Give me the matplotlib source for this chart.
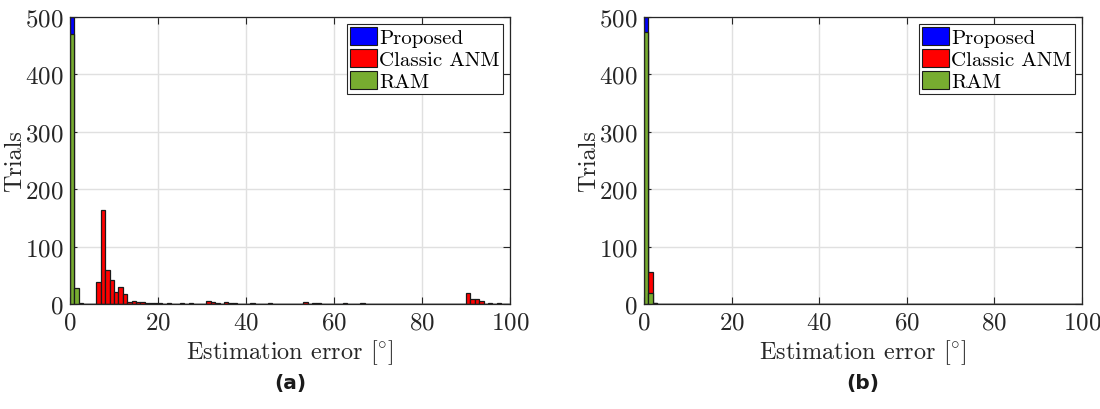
import numpy as np
import matplotlib
matplotlib.use("Agg")
import matplotlib.pyplot as plt
from matplotlib.patches import Patch

plt.rcParams['font.family'] = 'serif'
plt.rcParams['font.serif'] = ['cmr10']
plt.rcParams['mathtext.fontset'] = 'cm'
plt.rcParams['axes.formatter.use_mathtext'] = True

# ---------------- data ----------------
n_bins = 100
bin_width = 1.0
series_names = ["Proposed", "Classic ANM", "RAM"]
series_colors = ["#0000ff", "#ff0000", "#77ac30"]

# (a) nonzero histogram bins: bin index -> trials
proposed_a_bins = [0]
proposed_a_counts = [500]
anm_a_bins = [6, 7, 8, 9, 10, 11, 12, 13, 14, 15, 16, 17, 18, 19, 20, 22, 25, 27,
              31, 32, 33, 35, 36, 37, 41, 45, 53, 55, 56, 62, 66, 90, 91, 92, 93, 95, 97]
anm_a_counts = [38, 164, 60, 42, 21, 29, 18, 3, 5, 3, 3, 1, 1, 1, 1, 1, 1, 1,
                5, 3, 2, 4, 2, 1, 1, 1, 3, 1, 1, 1, 1, 19, 9, 8, 6, 1, 1]
ram_a_bins = [0, 1, 2]
ram_a_counts = [470, 28, 2]

# (b)
proposed_b_bins = [0]
proposed_b_counts = [500]
anm_b_bins = [0, 1, 2]
anm_b_counts = [443, 55, 2]
ram_b_bins = [0, 1, 2]
ram_b_counts = [474, 19, 2]

x_ticks = [0, 20, 40, 60, 80, 100]
y_ticks = [0, 100, 200, 300, 400, 500]
panel_labels = ["(a)", "(b)"]


def to_hist(bins, counts):
    h = np.zeros(n_bins)
    h[np.array(bins)] = counts
    return h


panels = [
    [to_hist(proposed_a_bins, proposed_a_counts), to_hist(anm_a_bins, anm_a_counts),
     to_hist(ram_a_bins, ram_a_counts)],
    [to_hist(proposed_b_bins, proposed_b_counts), to_hist(anm_b_bins, anm_b_counts),
     to_hist(ram_b_bins, ram_b_counts)],
]

fig = plt.figure(figsize=(11, 4.1), dpi=100)
rects = [[70 / 1100, 105 / 410, 440 / 1100, 287 / 410],
         [644 / 1100, 105 / 410, 438 / 1100, 287 / 410]]
edges = np.arange(n_bins) * bin_width
axc = '#262626'

for rect, hists, plabel in zip(rects, panels, panel_labels):
    ax = fig.add_axes(rect)
    for h, c in zip(hists, series_colors):
        ax.bar(edges, h, width=bin_width, align='edge', color=c,
               edgecolor='#1a1a1a', linewidth=0.9, zorder=3)
    ax.set_xlim(0, 100)
    ax.set_ylim(0, 500)
    ax.set_xticks(x_ticks)
    ax.set_yticks(y_ticks)
    ax.grid(True, color='#e0e0e0', linewidth=1.0, zorder=0)
    ax.set_axisbelow(True)
    ax.tick_params(direction='in', length=5, width=0.8, top=True, right=True,
                   labelsize=18, colors=axc, pad=5)
    for s in ax.spines.values():
        s.set_color(axc)
        s.set_linewidth(0.9)
        s.set_zorder(5)
    ax.set_xlabel('Estimation error [$^{\\circ}$]', fontsize=17.5, color=axc, labelpad=3)
    ax.set_ylabel('Trials', fontsize=17.5, color=axc)
    ax.yaxis.set_label_coords(-44 / (rect[2] * 1100), 0.5)
    handles = [Patch(facecolor=c, edgecolor='#1a1a1a', linewidth=0.8) for c in series_colors]
    leg = ax.legend(handles, series_names, loc='upper right', fontsize=15,
                    fancybox=False, framealpha=1, edgecolor='#262626',
                    handlelength=1.3, handleheight=0.9, handletextpad=0.1,
                    labelspacing=0.1, borderpad=0.15, borderaxespad=0.35)
    leg.get_frame().set_linewidth(0.8)
    x0 = rect[0] + rect[2] / 2
    fig.text(x0, 26 / 410, plabel, ha='center', va='center', fontsize=14.5,
             fontweight='bold', family='DejaVu Sans', color='#1a1a1a')

fig.savefig('out.png', dpi=100)
